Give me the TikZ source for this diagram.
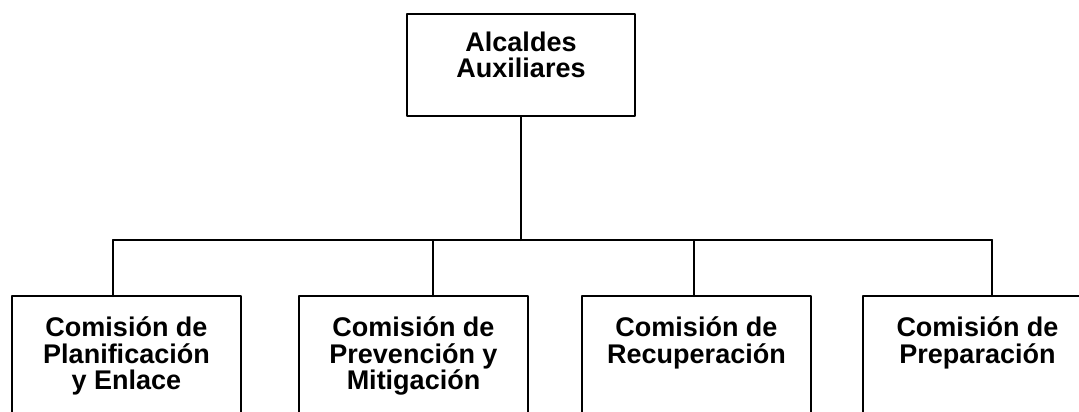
\documentclass[tikz,border=0pt]{standalone}
\usepackage{fontspec}
\setmainfont{Liberation Sans}
\usetikzlibrary{positioning}

\begin{document}
\begin{tikzpicture}[x=0.75pt, y=-0.75pt, line cap=round, line join=round,
  unit/.style={draw, line width=1.5pt, minimum width=171.75pt, inner sep=0pt, outer sep=0pt, anchor=north},
  chief/.style={unit, minimum width=171pt, minimum height=76.5pt},
  comision/.style={unit, minimum height=112.5pt},
  caption/.style={align=center, inner sep=0pt, outer sep=0pt, font=\fontsize{20.25}{19.8}\selectfont\bfseries},
  link/.style={line width=1.5pt}]

% --- frame of the picture ---
\useasboundingbox (0,0) rectangle (1079,411);
\fill[white] (0,0) rectangle (1079,411);
\clip (0,0) rectangle (1079,411);

% --- bus height and drop points ---
\def\busY{240}
\def\boxY{296}
\coordinate (d1) at (113,\busY);
\coordinate (d2) at (433,\busY);
\coordinate (d3) at (694,\busY);
\coordinate (d4) at (992,\busY);

% ------------------ TOP: Alcaldes ------------------
\node[chief] (alc) at (521,14) {};
\node[caption, below=13.5pt of alc.north] (alcT) {Alcaldes\\Auxiliares};

% ------------------ BOTTOM: comisiones ------------------
\node[comision] (c1) at (126.5,\boxY) {};
\node[comision] (c2) at (413.5,\boxY) {};
\node[comision] (c3) at (696.5,\boxY) {};
\node[comision] (c4) at (977.5,\boxY) {};

\node[caption, below=15.75pt of c1.north] (c1T) {Comisión de\\Planificación\\y Enlace};
\node[caption, below=15.75pt of c2.north] (c2T) {Comisión de\\Prevención y\\Mitigación};
\node[caption, below=15.75pt of c3.north] (c3T) {Comisión de\\Recuperación};
\node[caption, below=15.75pt of c4.north] (c4T) {Comisión de\\Preparación};

% connectors
\draw[link] (alc.south) -- (alc.south |- d1);
\draw[link] (d1) -- (d4);
\draw[link] (d1) -- (d1 |- c1.north);
\draw[link] (d2) -- (d2 |- c2.north);
\draw[link] (d3) -- (d3 |- c3.north);
\draw[link] (d4) -- (d4 |- c4.north);

\end{tikzpicture}
\end{document}
